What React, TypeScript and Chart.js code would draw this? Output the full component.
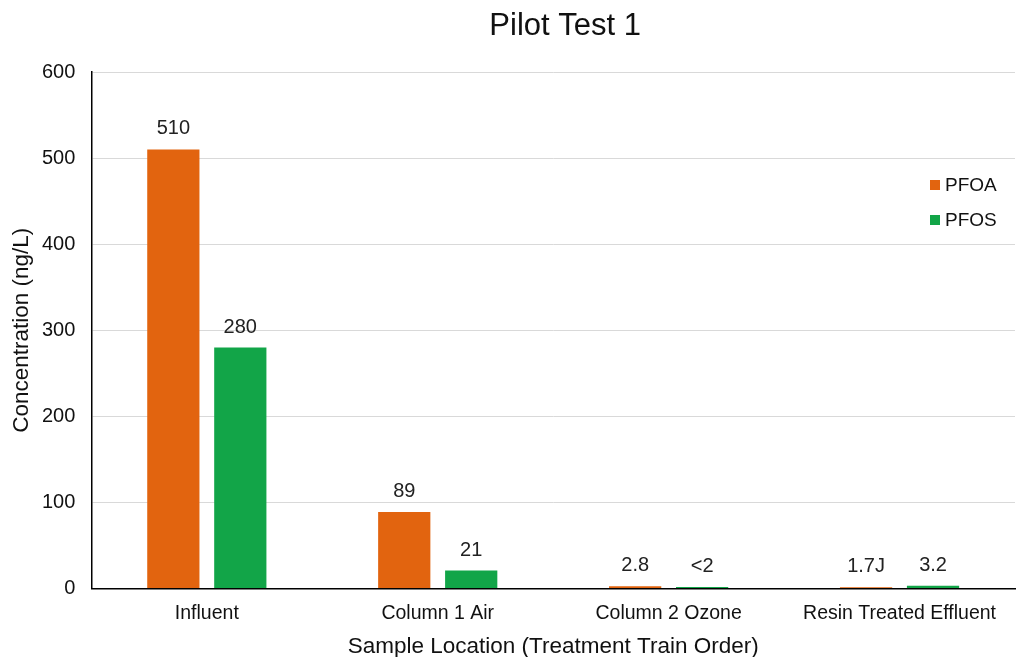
import React, { useEffect, useRef } from "react";
import { Chart, registerables } from "chart.js";

Chart.register(...registerables);

const categories = ["Influent", "Column 1 Air", "Column 2 Ozone", "Resin Treated Effluent"];
const pfoaValues = [510, 89, 2.8, 1.7];
const pfosValues = [280, 21, 2, 3.2];
const pfoaLabels = ["510", "89", "2.8", "1.7J"];
const pfosLabels = ["280", "21", "<2", "3.2"];
const seriesNames = ["PFOA", "PFOS"];
const seriesColors = ["#E2640F", "#12A548"];
const yTicks = [0, 100, 200, 300, 400, 500, 600];

const FONT = "'Liberation Sans', Arial, sans-serif";

const labelPlugin = {
  id: "barLabels",
  afterDatasetsDraw(chart: any) {
    const ctx = chart.ctx;
    const labelSets = [pfoaLabels, pfosLabels];
    ctx.save();
    ctx.font = `20px ${FONT}`;
    ctx.fillStyle = "#222";
    ctx.textAlign = "center";
    ctx.textBaseline = "alphabetic";
    chart.data.datasets.forEach((_ds: any, di: number) => {
      const meta = chart.getDatasetMeta(di);
      meta.data.forEach((bar: any, i: number) => {
        ctx.fillText(labelSets[di][i], bar.x, bar.y - 15);
      });
    });
    ctx.restore();
  },
};

const decorPlugin = {
  id: "decor",
  afterDraw(chart: any) {
    const ctx = chart.ctx;
    const area = chart.chartArea;
    ctx.save();
    // title
    ctx.font = `31px ${FONT}`;
    ctx.fillStyle = "#111";
    ctx.textAlign = "center";
    ctx.textBaseline = "middle";
    ctx.fillText("Pilot Test 1", (area.left + area.right) / 2 + 12, 26);
    // legend
    ctx.font = `19px ${FONT}`;
    ctx.textAlign = "left";
    seriesNames.forEach((name, i) => {
      const y = area.top + 113 + i * 35;
      ctx.fillStyle = seriesColors[i];
      ctx.fillRect(area.right - 85, y - 5, 10, 10);
      ctx.fillStyle = "#111";
      ctx.fillText(name, area.right - 70, y + 1);
    });
    ctx.restore();
  },
};

export default function App() {
  const ref = useRef<HTMLCanvasElement>(null);
  useEffect(() => {
    document.body.style.margin = "0";
    const chart = new Chart(ref.current!, {
      type: "bar",
      data: {
        labels: categories,
        datasets: [
          { label: seriesNames[0], data: pfoaValues, backgroundColor: seriesColors[0] },
          { label: seriesNames[1], data: pfosValues, backgroundColor: seriesColors[1] },
        ],
      },
      plugins: [labelPlugin, decorPlugin],
      options: {
        animation: false,
        responsive: false,
        devicePixelRatio: 1,
        layout: { padding: { top: 72, right: 1, left: 8, bottom: -3 } },
        plugins: {
          legend: { display: false },
          title: { display: false },
          tooltip: { enabled: false },
        },
        datasets: {
          bar: { categoryPercentage: 0.58, barPercentage: 0.78 },
        },
        scales: {
          x: {
            grid: { display: false, drawTicks: false },
            border: { display: true, color: "#000", width: 1.5 },
            ticks: { color: "#111", font: { family: FONT, size: 19.5 }, padding: 13, maxRotation: 0 },
            title: {
              display: true,
              text: "Sample Location (Treatment Train Order)",
              color: "#111",
              font: { family: FONT, size: 22.5 },
              padding: { top: -5, bottom: 0 },
            },
          },
          y: {
            min: 0,
            max: 600,
            afterBuildTicks: (axis: any) => {
              axis.ticks = yTicks.map((v) => ({ value: v }));
            },
            grid: { color: "#D9D9D9", lineWidth: 1, drawTicks: false },
            border: { display: true, color: "#000", width: 1.5 },
            ticks: { color: "#111", font: { family: FONT, size: 20 }, padding: 16 },
            title: {
              display: true,
              text: "Concentration (ng/L)",
              color: "#111",
              font: { family: FONT, size: 22.5 },
              padding: { top: 0, bottom: -9 },
            },
          },
        },
      },
    });
    return () => chart.destroy();
  }, []);
  return <canvas ref={ref} width={1016} height={657} style={{ display: "block" }} />;
}
